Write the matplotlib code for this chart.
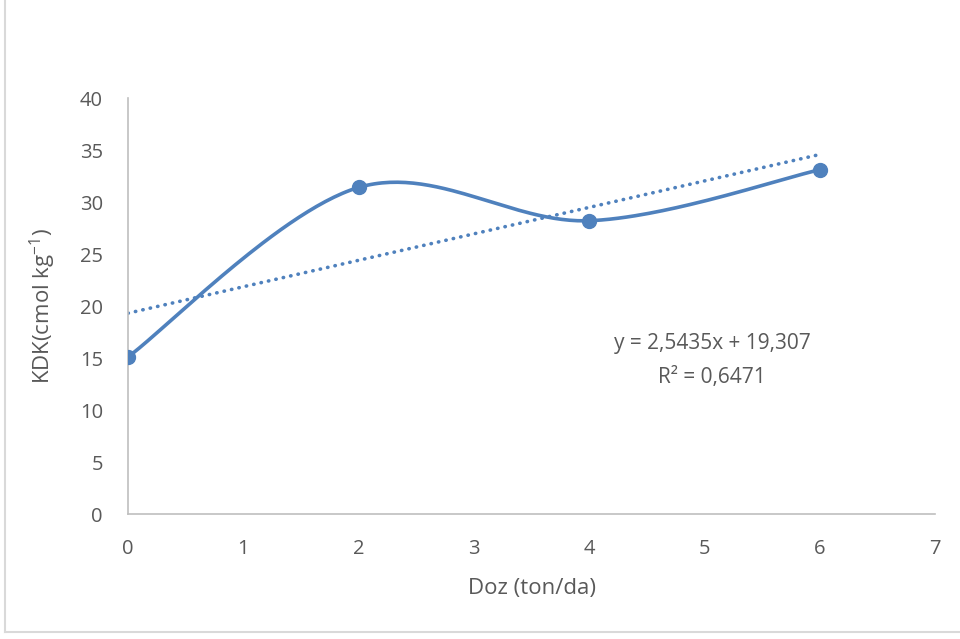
import numpy as np
import matplotlib
matplotlib.use("Agg")
import matplotlib.pyplot as plt
from matplotlib.lines import Line2D

doses = [0, 2, 4, 6]
kdk = [15.1, 31.4, 28.2, 33.1]
slope = 2.5435
intercept = 19.307
eq_text = "y = 2,5435x + 19,307"
r2_text = "R² = 0,6471"
xticks = [0, 1, 2, 3, 4, 5, 6, 7]
yticks = [0, 5, 10, 15, 20, 25, 30, 35, 40]

plt.rcParams['font.family'] = ['Open Sans', 'DejaVu Sans']
plt.rcParams['mathtext.fontset'] = 'custom'
plt.rcParams['mathtext.rm'] = 'Open Sans'
blue = '#4F81BD'
txt = '#595959'

fig = plt.figure(figsize=(9.6, 6.39), dpi=100)
ax = fig.add_axes([128/960, 1-514/639, (935-128)/960, (514-98)/639])

# Excel-like smoothed line (Catmull-Rom Bezier)
P = np.column_stack([doses, kdk]).astype(float)
n = len(P)
xs, ys = [], []
t = np.linspace(0, 1, 60)
for i in range(n-1):
    p0 = P[max(i-1, 0)]; p1 = P[i]; p2 = P[i+1]; p3 = P[min(i+2, n-1)]
    c1 = p1 + (p2 - p0)/6
    c2 = p2 - (p3 - p1)/6
    b = ((1-t)**3)[:, None]*p1 + (3*(1-t)**2*t)[:, None]*c1 + (3*(1-t)*t**2)[:, None]*c2 + (t**3)[:, None]*p2
    xs.extend(b[:, 0]); ys.extend(b[:, 1])
ax.plot(xs, ys, color=blue, lw=2.6, solid_capstyle='round', zorder=3)
ax.plot(doses, kdk, 'o', color=blue, ms=10, zorder=4)

xt = np.array([doses[0], doses[-1]], dtype=float)
ax.plot(xt, slope*xt + intercept, color=blue, lw=2.6, linestyle=(0, (0.1, 2.0)),
        dash_capstyle='round', zorder=2)

ax.set_xlim(0, 7)
ax.set_ylim(0, 40)
ax.set_xticks(xticks)
ax.set_yticks(yticks)
ax.tick_params(length=0, labelsize=14.5, colors=txt)
ax.tick_params(axis='x', pad=18)
ax.tick_params(axis='y', pad=18)
for s in ['top', 'right']:
    ax.spines[s].set_visible(False)
for s in ['left', 'bottom']:
    ax.spines[s].set_color('#BFBFBF')
    ax.spines[s].set_linewidth(1.2)

ax.set_xlabel("Doz (ton/da)", fontsize=16, color=txt, labelpad=14)
ax.set_ylabel("KDK(cmol kg$^{\\mathregular{-1}}$)", fontsize=16, color=txt, labelpad=16)

ax.text(712/960, 1-343/639, eq_text, transform=fig.transFigure, ha='center', va='center', fontsize=15, color=txt)
ax.text(712/960, 1-378/639, r2_text, transform=fig.transFigure, ha='center', va='center', fontsize=15, color=txt)

# outer frame
fig.add_artist(Line2D([5/960, 5/960], [1-632/639, 1.0], transform=fig.transFigure, color='#D9D9D9', lw=1.5))
fig.add_artist(Line2D([5/960, 1.0], [1-632/639, 1-632/639], transform=fig.transFigure, color='#D9D9D9', lw=1.5))

fig.savefig("out.png", dpi=100)
